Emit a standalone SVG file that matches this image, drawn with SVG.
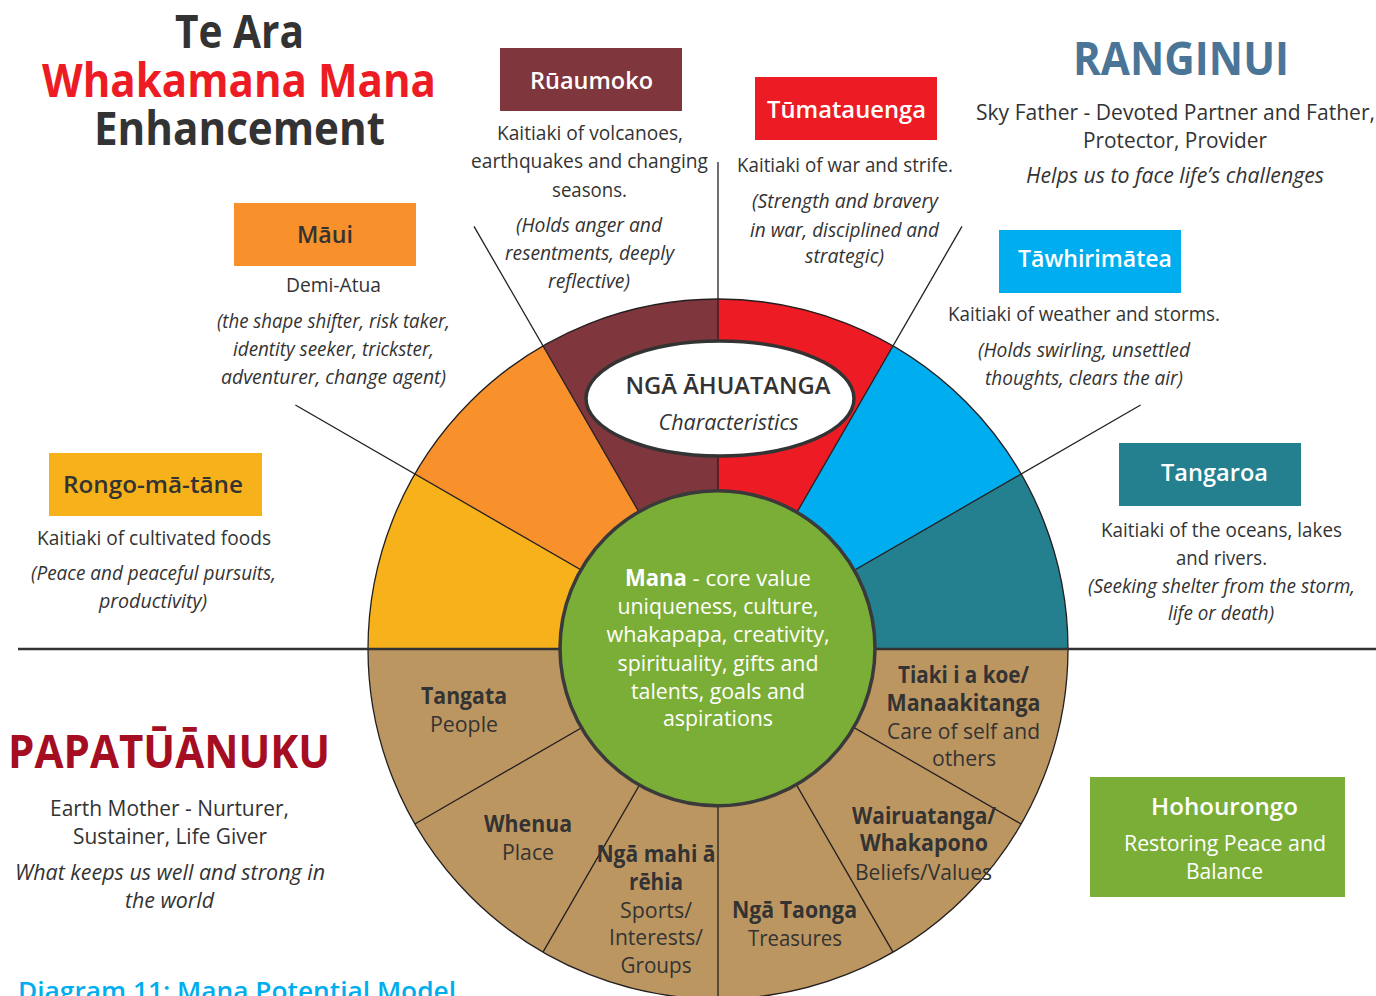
<svg xmlns="http://www.w3.org/2000/svg" width="1376" height="996" viewBox="0 0 1376 996">
<style>
text{font-family:"Open Sans","Liberation Sans",sans-serif;fill:#333;text-anchor:middle}
.b{font-size:20.5px}
.i{font-size:20.5px;font-style:italic}
.lbl{font-size:23px;font-weight:600;fill:#fff}
.lbd{font-size:23px;font-weight:600;fill:#333}
.ttl{font-size:46px;font-weight:700}
.big{font-size:22px}
.bigi{font-size:22px;font-style:italic}
.sb{font-size:22.5px;font-weight:700}
.sr{font-size:22.5px}
.gw{font-size:22.5px;fill:#fff}
.ln{stroke:#231f20;stroke-width:1.3;fill:none}
</style>

<g id="wheel">
  <path d="M718,649 L1068,649 A350,350 0 0 0 1021.1,474 Z" fill="#247F8E"/>
  <path d="M718,649 L1021.1,474 A350,350 0 0 0 893,345.9 Z" fill="#00ADEE"/>
  <path d="M718,649 L893,345.9 A350,350 0 0 0 718,299 Z" fill="#ED1C24"/>
  <path d="M718,649 L718,299 A350,350 0 0 0 543,345.9 Z" fill="#7F363C"/>
  <path d="M718,649 L543,345.9 A350,350 0 0 0 414.9,474 Z" fill="#F8902C"/>
  <path d="M718,649 L414.9,474 A350,350 0 0 0 368,649 Z" fill="#F7B21B"/>
  <path d="M368,649 A350,350 0 0 0 1068,649 Z" fill="#BC9661"/>
  <circle cx="718" cy="649" r="350" class="ln" stroke-width="1.2"/>
</g>

<g id="connectors">
  <line class="ln" x1="718" y1="649" x2="1140.6" y2="405"/>
  <line class="ln" x1="718" y1="649" x2="962" y2="226.4"/>
  <line class="ln" x1="718" y1="649" x2="718" y2="162"/>
  <line class="ln" x1="718" y1="649" x2="474" y2="226.4"/>
  <line class="ln" x1="718" y1="649" x2="295.4" y2="405"/>
  <line class="ln" x1="718" y1="649" x2="414.9" y2="824"/>
  <line class="ln" x1="718" y1="649" x2="543" y2="952.1"/>
  <line class="ln" x1="718" y1="649" x2="718" y2="999"/>
  <line class="ln" x1="718" y1="649" x2="893" y2="952.1"/>
  <line class="ln" x1="718" y1="649" x2="1021.1" y2="824"/>
  <line x1="18" y1="649" x2="1376" y2="649" stroke="#333" stroke-width="2.5"/>
</g>

<g id="characteristics">
  <ellipse cx="720" cy="398.5" rx="134" ry="57.5" fill="#fff" stroke="#333" stroke-width="3.5"/>
  <text x="728" y="393.5" font-size="23.5" font-weight="600" textLength="205" lengthAdjust="spacingAndGlyphs">NGĀ ĀHUATANGA</text>
  <text x="728.5" y="429.5" font-size="21" font-style="italic" textLength="140" lengthAdjust="spacingAndGlyphs">Characteristics</text>
</g>

<g id="mana">
  <circle cx="717.5" cy="648.3" r="157.5" fill="#7BAE37" stroke="#3a3a3a" stroke-width="3.5"/>
  <text class="gw" x="718" y="586" textLength="186" lengthAdjust="spacingAndGlyphs"><tspan font-weight="700" fill="#fff">Mana</tspan><tspan fill="#fff"> - core value</tspan></text>
  <text class="gw" x="718" y="614" textLength="201" lengthAdjust="spacingAndGlyphs">uniqueness, culture,</text>
  <text class="gw" x="718" y="642" textLength="223" lengthAdjust="spacingAndGlyphs">whakapapa, creativity,</text>
  <text class="gw" x="718" y="670.5" textLength="201" lengthAdjust="spacingAndGlyphs">spirituality, gifts and</text>
  <text class="gw" x="718" y="698.5" textLength="174" lengthAdjust="spacingAndGlyphs">talents, goals and</text>
  <text class="gw" x="718" y="726" textLength="110" lengthAdjust="spacingAndGlyphs">aspirations</text>
</g>

<g id="sector-tangata">
  <text class="sb" x="464" y="703.5" textLength="86" lengthAdjust="spacingAndGlyphs">Tangata</text>
  <text class="sr" x="464" y="731.5" textLength="68" lengthAdjust="spacingAndGlyphs">People</text>
</g>
<g id="sector-whenua">
  <text class="sb" x="528" y="831.5" textLength="88" lengthAdjust="spacingAndGlyphs">Whenua</text>
  <text class="sr" x="528" y="860" textLength="52" lengthAdjust="spacingAndGlyphs">Place</text>
</g>
<g id="sector-ngamahi">
  <text class="sb" x="656" y="861.5" textLength="119" lengthAdjust="spacingAndGlyphs">Ngā mahi ā</text>
  <text class="sb" x="656" y="889.5" textLength="54" lengthAdjust="spacingAndGlyphs">rēhia</text>
  <text class="sr" x="656" y="917.5" textLength="72" lengthAdjust="spacingAndGlyphs">Sports/</text>
  <text class="sr" x="656" y="945" textLength="94" lengthAdjust="spacingAndGlyphs">Interests/</text>
  <text class="sr" x="656" y="973" textLength="71" lengthAdjust="spacingAndGlyphs">Groups</text>
</g>
<g id="sector-taonga">
  <text class="sb" x="794.5" y="917.5" textLength="125" lengthAdjust="spacingAndGlyphs">Ngā Taonga</text>
  <text class="sr" x="795" y="946" textLength="94" lengthAdjust="spacingAndGlyphs">Treasures</text>
</g>
<g id="sector-wairuatanga">
  <text class="sb" x="924" y="823.5" textLength="144" lengthAdjust="spacingAndGlyphs">Wairuatanga/</text>
  <text class="sb" x="924" y="851" textLength="128" lengthAdjust="spacingAndGlyphs">Whakapono</text>
  <text class="sr" x="923.5" y="879.5" textLength="137" lengthAdjust="spacingAndGlyphs">Beliefs/Values</text>
</g>
<g id="sector-tiaki">
  <text class="sb" x="963.5" y="683" textLength="131" lengthAdjust="spacingAndGlyphs">Tiaki i a koe/</text>
  <text class="sb" x="963.5" y="711" textLength="154" lengthAdjust="spacingAndGlyphs">Manaakitanga</text>
  <text class="sr" x="963.5" y="738.5" textLength="153" lengthAdjust="spacingAndGlyphs">Care of self and</text>
  <text class="sr" x="964" y="766" textLength="64" lengthAdjust="spacingAndGlyphs">others</text>
</g>

<g id="title">
  <text class="ttl" x="239.5" y="48" textLength="129" lengthAdjust="spacingAndGlyphs">Te Ara</text>
  <text class="ttl" x="239" y="97" style="fill:#ED1C24" textLength="394" lengthAdjust="spacingAndGlyphs">Whakamana Mana</text>
  <text class="ttl" x="239.5" y="145" textLength="291" lengthAdjust="spacingAndGlyphs">Enhancement</text>
</g>

<g id="ruaumoko">
  <rect x="500" y="48" width="182" height="63" fill="#7F363C"/>
  <text class="lbl" x="591.5" y="89.3" textLength="123" lengthAdjust="spacingAndGlyphs">Rūaumoko</text>
  <text class="b" x="590" y="140" textLength="186" lengthAdjust="spacingAndGlyphs">Kaitiaki of volcanoes,</text>
  <text class="b" x="589.5" y="168.3" textLength="237" lengthAdjust="spacingAndGlyphs">earthquakes and changing</text>
  <text class="b" x="589.5" y="196.5" textLength="75" lengthAdjust="spacingAndGlyphs">seasons.</text>
  <text class="i" x="589" y="231.7" textLength="146" lengthAdjust="spacingAndGlyphs">(Holds anger and</text>
  <text class="i" x="589.5" y="260" textLength="169" lengthAdjust="spacingAndGlyphs">resentments, deeply</text>
  <text class="i" x="589" y="287.5" textLength="82" lengthAdjust="spacingAndGlyphs">reflective)</text>
</g>

<g id="tumatauenga">
  <rect x="755" y="77" width="182" height="63" fill="#ED1C24"/>
  <text class="lbl" x="846.5" y="117.7" textLength="159" lengthAdjust="spacingAndGlyphs">Tūmatauenga</text>
  <text class="b" x="845" y="171.7" textLength="216" lengthAdjust="spacingAndGlyphs">Kaitiaki of war and strife.</text>
  <text class="i" x="845" y="208.3" textLength="186" lengthAdjust="spacingAndGlyphs">(Strength and bravery</text>
  <text class="i" x="844.5" y="236.5" textLength="189" lengthAdjust="spacingAndGlyphs">in war, disciplined and</text>
  <text class="i" x="844.5" y="263" textLength="79" lengthAdjust="spacingAndGlyphs">strategic)</text>
</g>

<g id="ranginui">
  <text class="ttl" x="1181" y="74.5" style="fill:#4A7597" textLength="216" lengthAdjust="spacingAndGlyphs">RANGINUI</text>
  <text class="big" x="1175.5" y="120" textLength="399" lengthAdjust="spacingAndGlyphs">Sky Father - Devoted Partner and Father,</text>
  <text class="big" x="1175" y="148.3" textLength="184" lengthAdjust="spacingAndGlyphs">Protector, Provider</text>
  <text class="bigi" x="1175" y="182.7" textLength="298" lengthAdjust="spacingAndGlyphs">Helps us to face life’s challenges</text>
</g>

<g id="tawhirimatea">
  <rect x="999" y="230" width="182" height="63" fill="#00ADEE"/>
  <text class="lbl" x="1095" y="267.3" textLength="154" lengthAdjust="spacingAndGlyphs">Tāwhirimātea</text>
  <text class="b" x="1084" y="321" textLength="272" lengthAdjust="spacingAndGlyphs">Kaitiaki of weather and storms.</text>
  <text class="i" x="1084" y="356.7" textLength="212" lengthAdjust="spacingAndGlyphs">(Holds swirling, unsettled</text>
  <text class="i" x="1084" y="385" textLength="198" lengthAdjust="spacingAndGlyphs">thoughts, clears the air)</text>
</g>

<g id="tangaroa">
  <rect x="1119" y="443" width="182" height="63" fill="#247F8E"/>
  <text class="lbl" x="1214.5" y="480.7" textLength="107" lengthAdjust="spacingAndGlyphs">Tangaroa</text>
  <text class="b" x="1221.5" y="537.3" textLength="241" lengthAdjust="spacingAndGlyphs">Kaitiaki of the oceans, lakes</text>
  <text class="b" x="1221.5" y="565" textLength="91" lengthAdjust="spacingAndGlyphs">and rivers.</text>
  <text class="i" x="1221.5" y="592.7" textLength="267" lengthAdjust="spacingAndGlyphs">(Seeking shelter from the storm,</text>
  <text class="i" x="1221" y="620" textLength="106" lengthAdjust="spacingAndGlyphs">life or death)</text>
</g>

<g id="maui">
  <rect x="234" y="203" width="182" height="63" fill="#F8902C"/>
  <text class="lbd" x="325" y="243.3" textLength="56" lengthAdjust="spacingAndGlyphs">Māui</text>
  <text class="b" x="333.5" y="291.7" textLength="95" lengthAdjust="spacingAndGlyphs">Demi-Atua</text>
  <text class="i" x="333.5" y="327.5" textLength="233" lengthAdjust="spacingAndGlyphs">(the shape shifter, risk taker,</text>
  <text class="i" x="333.5" y="355.7" textLength="201" lengthAdjust="spacingAndGlyphs">identity seeker, trickster,</text>
  <text class="i" x="333.5" y="383.5" textLength="225" lengthAdjust="spacingAndGlyphs">adventurer, change agent)</text>
</g>

<g id="rongomatane">
  <rect x="49" y="453" width="213" height="63" fill="#F7B21B"/>
  <text class="lbd" x="153" y="492.7" textLength="180" lengthAdjust="spacingAndGlyphs">Rongo-mā-tāne</text>
  <text class="b" x="154" y="545" textLength="234" lengthAdjust="spacingAndGlyphs">Kaitiaki of cultivated foods</text>
  <text class="i" x="153.5" y="580" textLength="245" lengthAdjust="spacingAndGlyphs">(Peace and peaceful pursuits,</text>
  <text class="i" x="153" y="607.5" textLength="108" lengthAdjust="spacingAndGlyphs">productivity)</text>
</g>

<g id="papatuanuku">
  <text class="ttl" x="169" y="768.3" style="fill:#A50D22" textLength="322" lengthAdjust="spacingAndGlyphs">PAPATŪĀNUKU</text>
  <text class="big" x="169.5" y="816" textLength="239" lengthAdjust="spacingAndGlyphs">Earth Mother - Nurturer,</text>
  <text class="big" x="170" y="844" textLength="194" lengthAdjust="spacingAndGlyphs">Sustainer, Life Giver</text>
  <text class="bigi" x="170" y="880" textLength="310" lengthAdjust="spacingAndGlyphs">What keeps us well and strong in</text>
  <text class="bigi" x="169.5" y="907.5" textLength="89" lengthAdjust="spacingAndGlyphs">the world</text>
</g>

<g id="hohourongo">
  <rect x="1090" y="777" width="255" height="120" fill="#7BAE37"/>
  <text class="lbl" x="1224.5" y="815" font-size="24" textLength="147" lengthAdjust="spacingAndGlyphs">Hohourongo</text>
  <text class="big" x="1225" y="851" style="fill:#fff" textLength="202" lengthAdjust="spacingAndGlyphs">Restoring Peace and</text>
  <text class="big" x="1224.5" y="879" style="fill:#fff" textLength="77" lengthAdjust="spacingAndGlyphs">Balance</text>
</g>

<g id="caption">
  <text x="18" y="1000" font-size="26" font-weight="600" style="fill:#00AEEF;text-anchor:start" textLength="438" lengthAdjust="spacingAndGlyphs">Diagram 11: Mana Potential Model</text>
</g>
</svg>
